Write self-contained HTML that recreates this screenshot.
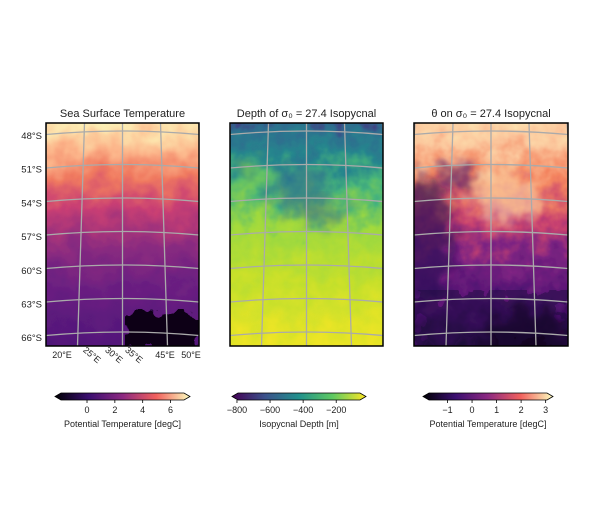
<!DOCTYPE html>
<html><head><meta charset="utf-8"><style>
body{margin:0;background:#fff;width:600px;height:526px;overflow:hidden}
svg text{font-family:"Liberation Sans","DejaVu Sans",sans-serif;fill:#222}
</style></head><body>
<svg id="fig" width="600" height="526" viewBox="0 0 600 526" xmlns="http://www.w3.org/2000/svg">
<defs>
<linearGradient id="gSST" x1="0" y1="0" x2="0" y2="1">
<stop offset="0" stop-color="#fcfdbf"/><stop offset="0.08" stop-color="#fde8b0"/><stop offset="0.18" stop-color="#fcb58a"/>
<stop offset="0.28" stop-color="#f07a60"/><stop offset="0.4" stop-color="#c93f73"/><stop offset="0.55" stop-color="#8a2b80"/>
<stop offset="0.7" stop-color="#6a1f81"/><stop offset="1" stop-color="#4a1477"/></linearGradient>
<linearGradient id="gDep" x1="0" y1="0" x2="0" y2="1">
<stop offset="0" stop-color="#46337e"/><stop offset="0.08" stop-color="#2f6b8e"/><stop offset="0.2" stop-color="#26868d"/>
<stop offset="0.32" stop-color="#48b57a"/><stop offset="0.48" stop-color="#9fd93e"/><stop offset="0.7" stop-color="#c8e02a"/><stop offset="1" stop-color="#f5e626"/></linearGradient>
<linearGradient id="gTh" x1="0" y1="0" x2="0" y2="1">
<stop offset="0" stop-color="#fde9b5"/><stop offset="0.15" stop-color="#fbc49a"/><stop offset="0.3" stop-color="#f4845f"/>
<stop offset="0.45" stop-color="#c8426f"/><stop offset="0.58" stop-color="#7e2482"/><stop offset="0.78" stop-color="#4a1070"/><stop offset="1" stop-color="#1a0b35"/></linearGradient>
<linearGradient id="cMagma" x1="0" y1="0" x2="1" y2="0">
<stop offset="0" stop-color="#000004"/><stop offset="0.25" stop-color="#3b0f70"/><stop offset="0.5" stop-color="#8c2981"/>
<stop offset="0.75" stop-color="#f1605d"/><stop offset="1" stop-color="#fcfdbf"/></linearGradient>
<linearGradient id="cVir" x1="0" y1="0" x2="1" y2="0">
<stop offset="0" stop-color="#440154"/><stop offset="0.25" stop-color="#3b528b"/><stop offset="0.5" stop-color="#21918c"/>
<stop offset="0.75" stop-color="#5ec962"/><stop offset="1" stop-color="#fde725"/></linearGradient>
<filter id="swirl" x="0" y="0" width="1" height="1">
<feTurbulence type="fractalNoise" baseFrequency="0.045" numOctaves="3" seed="4"/>
<feDisplacementMap in="SourceGraphic" scale="40" xChannelSelector="R" yChannelSelector="G"/></filter>
<filter id="swirl2" x="0" y="0" width="1" height="1">
<feTurbulence type="fractalNoise" baseFrequency="0.06" numOctaves="3" seed="9"/>
<feDisplacementMap in="SourceGraphic" scale="60" xChannelSelector="R" yChannelSelector="G"/></filter>
<filter id="swirl3" x="-0.5" y="-0.5" width="2" height="2">
<feGaussianBlur in="SourceGraphic" stdDeviation="6" result="b"/>
<feTurbulence type="fractalNoise" baseFrequency="0.07" numOctaves="3" seed="2" result="t"/>
<feDisplacementMap in="b" in2="t" scale="35" xChannelSelector="R" yChannelSelector="G" result="d"/>
<feGaussianBlur in="d" stdDeviation="1.5"/></filter>
<clipPath id="c1"><rect x="46" y="123" width="153" height="223"/></clipPath>
<clipPath id="c2"><rect x="230" y="123" width="153" height="223"/></clipPath>
<clipPath id="c3"><rect x="414" y="123" width="154" height="223"/></clipPath>
</defs>
<g id="panels"></g>
</svg>
<script>
const panelTitles = ["Sea Surface Temperature", "Depth of \u03c3\u2080 = 27.4 Isopycnal", "\u03b8 on \u03c3\u2080 = 27.4 Isopycnal"];
const latLabels = ["48°S","51°S","54°S","57°S","60°S","63°S","66°S"];
const lonLabels = ["20°E","25°E","30°E","35°E","45°E","50°E"];
const cb1Ticks = [0, 2, 4, 6];
const cb2Ticks = [-800, -600, -400, -200];
const cb3Ticks = [-1, 0, 1, 2, 3];
const cbLabels = ["Potential Temperature [degC]", "Isopycnal Depth [m]", "Potential Temperature [degC]"];
const cbRanges = [[-2.3, 7.4], [-830, -20], [-2.0, 3.3]];

const NS = "http://www.w3.org/2000/svg";
const root = document.getElementById('panels');
function mk(tag, attrs, parent) { const e = document.createElementNS(NS, tag); for (const k in attrs) e.setAttribute(k, attrs[k]); (parent || root).appendChild(e); return e; }

const panels = [
  {x: 46, w: 153, grad: 'gSST', clip: 'c1', filt: 'swirl', cb: [55, 190], cmap: 'cMagma', ticks: cb1Ticks},
  {x: 230, w: 153, grad: 'gDep', clip: 'c2', filt: 'swirl2', cb: [232, 366], cmap: 'cVir', ticks: cb2Ticks},
  {x: 414, w: 154, grad: 'gTh', clip: 'c3', filt: 'swirl2', cb: [423, 553], cmap: 'cMagma', ticks: cb3Ticks}
];
const topY = 123, h = 223;
panels.forEach((p, i) => {
  const g = mk('g', {'clip-path': 'url(#' + p.clip + ')'});
  
  
  const f = mk('rect', {x: p.x - 20, y: topY - 20, width: p.w + 40, height: h + 40, fill: 'url(#' + p.grad + ')', filter: 'url(#' + p.filt + ')'}, g);
  
  
  if (i === 0) { mk('path', {d: 'M125 ' + (topY + 223) + ' L128 318 Q140 308 160 312 Q180 305 199 315 L199 346 Z', fill: '#0a0612', filter: 'url(#swirl)'}, g); }
  if (i === 1) {
    mk('ellipse', {cx: 300, cy: 190, rx: 28, ry: 26, fill: '#2f6b8e', opacity: 0.6, filter: 'url(#swirl3)'}, g);
    mk('ellipse', {cx: 325, cy: 215, rx: 22, ry: 12, fill: '#31688e', opacity: 0.5, filter: 'url(#swirl3)'}, g);
    mk('ellipse', {cx: 250, cy: 178, rx: 20, ry: 14, fill: '#8fd444', opacity: 0.5, filter: 'url(#swirl3)'}, g);
  }
  if (i === 2) {
    mk('ellipse', {cx: 425, cy: 240, rx: 28, ry: 60, fill: '#2a0f55', opacity: 0.7, filter: 'url(#swirl3)'}, g);
    mk('ellipse', {cx: 455, cy: 178, rx: 22, ry: 12, fill: '#3b0f70', opacity: 0.6, filter: 'url(#swirl3)'}, g);
    mk('ellipse', {cx: 505, cy: 195, rx: 35, ry: 28, fill: '#fde3b0', opacity: 0.55, filter: 'url(#swirl3)'}, g);
    mk('ellipse', {cx: 525, cy: 338, rx: 42, ry: 28, fill: '#0a0612', opacity: 0.7, filter: 'url(#swirl3)'}, g);
    mk('rect', {x: p.x, y: 290, width: p.w, height: 56, fill: '#1a0b3a', opacity: 0.45, filter: 'url(#swirl2)'}, g);
  }
  for (let k = 0; k < 8; k++) {
    const yl = topY + 12 + k * 33.5, bulge = 4;
    const pl = mk('path', {d: `M${p.x - 5} ${yl} Q${p.x + p.w / 2} ${yl - 2 * bulge} ${p.x + p.w + 5} ${yl}`, stroke: '#aaa', 'stroke-width': 1.3, fill: 'none'}, g);
    
    
  }
  for (let k = -3; k <= 3; k++) {
    const xt = p.x + p.w / 2 + k * 38, xb = p.x + p.w / 2 + k * 45;
    const ml = mk('line', {x1: xt, y1: topY, x2: xb, y2: topY + h, stroke: '#aaa', 'stroke-width': 1.3}, g);
    
    
  }
  const fr = mk('rect', {x: p.x, y: topY, width: p.w, height: h, fill: 'none', stroke: '#000', 'stroke-width': 1.5});
  
  
  const t = mk('text', {x: p.x + p.w / 2, y: 117, 'text-anchor': 'middle', 'font-size': 11});
  t.textContent = panelTitles[i];
  
  
  const [x0, x1] = p.cb, ya = 393, hh = 7;
  const cb = mk('path', {d: `M${x0} ${ya + hh / 2} L${x0 + 6} ${ya} L${x1 - 6} ${ya} L${x1} ${ya + hh / 2} L${x1 - 6} ${ya + hh} L${x0 + 6} ${ya + hh} Z`, fill: 'url(#' + p.cmap + ')', stroke: '#000', 'stroke-width': 0.8});
  
  
  const [vmin, vmax] = cbRanges[i];
  const sx = v => x0 + (v - vmin) / (vmax - vmin) * (x1 - x0);
  p.ticks.forEach(v => {
    const tx = sx(v);
    mk('line', {x1: tx, y1: ya + hh, x2: tx, y2: ya + hh + 3, stroke: '#000', 'stroke-width': 0.8});
    const tl = mk('text', {x: tx, y: ya + hh + 13, 'text-anchor': 'middle', 'font-size': 9});
    tl.textContent = v < 0 ? '\u2212' + Math.abs(v) : String(v);
    
    
  });
  const cl = mk('text', {x: (x0 + x1) / 2, y: 427, 'text-anchor': 'middle', 'font-size': 9});
  cl.textContent = cbLabels[i];
  
  
});
latLabels.forEach((s, k) => {
  const t = mk('text', {x: 42, y: 139 + k * 33.7, 'text-anchor': 'end', 'font-size': 9.5});
  t.textContent = s;
  
  
});
const lonX = [62, 92, 114, 134, 165, 191], lonRot = [0, 40, 40, 40, 0, 0];
lonLabels.forEach((s, k) => {
  const t = mk('text', {x: lonX[k], y: 358, 'text-anchor': 'middle', 'font-size': 9, transform: `rotate(${lonRot[k]} ${lonX[k]} 355)`});
  t.textContent = s;
  
  
});
</script>
</body></html>
